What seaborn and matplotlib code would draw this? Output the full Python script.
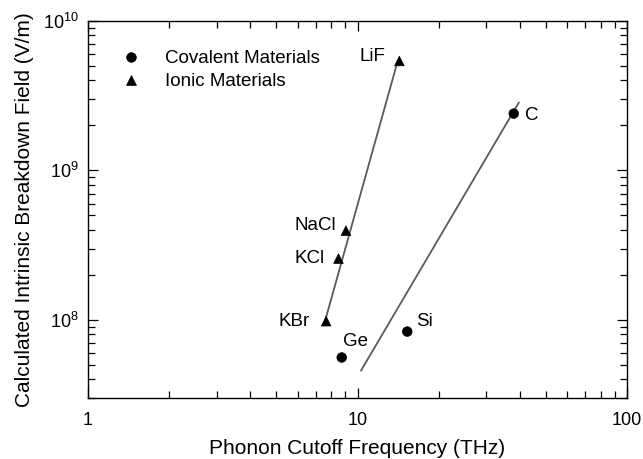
import matplotlib
matplotlib.use("Agg")
import matplotlib.pyplot as plt
import seaborn as sns
import pandas as pd
import numpy as np
from matplotlib.ticker import LogLocator, NullFormatter

sns.set_theme(style="white")
plt.rcParams['font.family'] = ['Liberation Sans', 'DejaVu Sans']
plt.rcParams['mathtext.fontset'] = 'custom'
plt.rcParams['mathtext.rm'] = 'Liberation Sans'
plt.rcParams['text.color'] = 'black'
plt.rcParams['axes.labelcolor'] = 'black'
plt.rcParams['xtick.color'] = 'black'
plt.rcParams['ytick.color'] = 'black'

# Data
materials = ["Ge", "Si", "C", "KBr", "KCl", "NaCl", "LiF"]
kind = ["Covalent Materials"] * 3 + ["Ionic Materials"] * 4
freq_thz = [8.74, 15.3, 38.0, 7.65, 8.5, 9.06, 14.3]
field_vm = [5.6e7, 8.35e7, 2.4e9, 9.8e7, 2.57e8, 3.95e8, 5.4e9]

# Fit lines (endpoints)
ionic_line_x = [7.6, 14.1]
ionic_line_y = [1.0e8, 5.4e9]
cov_line_x = [10.3, 39.7]
cov_line_y = [4.57e7, 2.85e9]

# label offsets in pixels (dx, dy, ha)
label_offsets = {
    "Ge": (14, 16, "center"),
    "Si": (9, 10, "left"),
    "C": (11, -2, "left"),
    "KBr": (-16, 0, "right"),
    "KCl": (-14, 0, "right"),
    "NaCl": (-10, 5, "right"),
    "LiF": (-14, 4, "right"),
}

df = pd.DataFrame({"material": materials, "type": kind, "f": freq_thz, "E": field_vm})

fig = plt.figure(figsize=(6.43, 4.59), dpi=100)
ax = fig.add_axes([88/643, 1 - 398/459, (627-88)/643, (398-21)/459])

ax.plot(ionic_line_x, ionic_line_y, color="#5a5a5a", lw=1.3, zorder=1)
ax.plot(cov_line_x, cov_line_y, color="#5a5a5a", lw=1.3, zorder=1)

sns.scatterplot(data=df, x="f", y="E", style="type",
                markers={"Covalent Materials": "o", "Ionic Materials": "^"},
                color="black", s=48, edgecolor="black", linewidth=0.5,
                ax=ax, zorder=3)

ax.set_xscale("log")
ax.set_yscale("log")
ax.set_xlim(1, 100)
ax.set_ylim(3e7, 1e10)

for m, f, e in zip(materials, freq_thz, field_vm):
    dx, dy, ha = label_offsets[m]
    ax.annotate(m, (f, e), xytext=(dx, dy), textcoords="offset pixels",
                ha=ha, va="center", fontsize=13.5, color="black")

ax.set_xticks([1, 10, 100])
ax.set_xticklabels(["1", "10", "100"])
ax.set_yticks([1e8, 1e9, 1e10])
ax.set_yticklabels([r"$10^{8}$", r"$10^{9}$", r"$10^{10}$"])
ax.xaxis.set_minor_locator(LogLocator(base=10, subs=np.arange(2, 10)))
ax.yaxis.set_minor_locator(LogLocator(base=10, subs=np.arange(2, 10)))
ax.xaxis.set_minor_formatter(NullFormatter())
ax.yaxis.set_minor_formatter(NullFormatter())
ax.tick_params(which="both", direction="in", top=True, right=True,
               bottom=True, left=True, colors="black", labelsize=13)
ax.tick_params(which="major", length=7.2, width=0.9, pad=10)
ax.tick_params(which="minor", length=5, width=0.9)
ax.tick_params(axis="y", which="major", pad=7)
for sp in ax.spines.values():
    sp.set_color("black")
    sp.set_linewidth(1.0)

ax.set_xlabel("Phonon Cutoff Frequency (THz)", fontsize=15, labelpad=7, color="black")
ax.set_ylabel("Calculated Intrinsic Breakdown Field (V/m)", fontsize=15, labelpad=6, color="black")

leg = ax.legend(loc="upper left", bbox_to_anchor=(0.031, 0.942), frameon=False,
                fontsize=13.5, handletextpad=0.8, labelspacing=0.3,
                borderaxespad=0, title=None)
for t in leg.get_texts():
    t.set_color("black")

fig.savefig("out.png", dpi=100)
